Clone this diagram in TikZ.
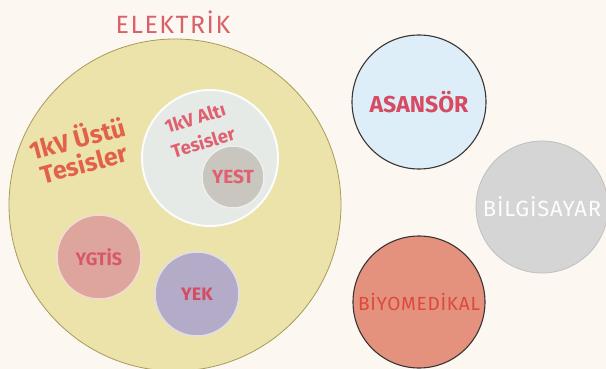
\documentclass[tikz,border=0pt]{standalone}
\usepackage{fontspec}
\setmainfont{Fira Sans}
\newfontfamily\labfont{Fira Sans}
\newfontfamily\widefont[LetterSpace=4]{Fira Sans}
\newfontfamily\titlefont[LetterSpace=6]{Fira Sans}
\definecolor{bg}{HTML}{FCF8F1}
\definecolor{elfill}{HTML}{EBE3A9}
\definecolor{eldraw}{HTML}{A89A5A}
\definecolor{altfill}{HTML}{E6EAE6}
\definecolor{yestfill}{HTML}{C9C5BF}
\definecolor{ygtfill}{HTML}{DEA59C}
\definecolor{yekfill}{HTML}{B4ABC8}
\definecolor{asfill}{HTML}{DDEEF8}
\definecolor{bgfill}{HTML}{D5D5D5}
\definecolor{biofill}{HTML}{E4917E}
\definecolor{darkedge}{HTML}{3A3535}
\definecolor{titlecol}{HTML}{D9626A}
\definecolor{ustcol}{HTML}{E2614A}
\definecolor{altcol}{HTML}{E06070}
\definecolor{redtxt}{HTML}{D64A62}
\definecolor{biotxt}{HTML}{DD4A3C}
\begin{document}
\begin{tikzpicture}[x=1pt,y=-1pt,
  circ/.style={circle,inner sep=0pt,minimum size=#1},
  ustlab/.style={text=ustcol, font=\labfont\bfseries\fontsize{25}{28}\selectfont, rotate=15, inner sep=1pt},
  altlab/.style={text=altcol, font=\labfont\bfseries\fontsize{18.5}{21}\selectfont, rotate=17, inner sep=1pt},
]
\useasboundingbox (0,0) rectangle (606,369);
\fill[bg] (0,0) rectangle (606,369);
% main circle
\node[circ=332pt, fill=elfill, draw=eldraw, line width=0.8pt] (el) at (175,205) {};
\node[text=titlecol, font=\titlefont\fontsize{25}{28}\selectfont] (eltitle) at (173,22) {ELEKTRİK};
% 1kV Ustu label
\node[ustlab] (ust1) at (77,137) {1kV Üstü};
\node[ustlab] (ust2) at (84,163) {Tesisler};
% 1kV Alti circle
\node[circ=136pt, fill=altfill, draw=white!85!altfill, line width=2pt] (alt) at (210,158) {};
\node[circ=62pt, fill=yestfill, draw=white!70!yestfill, line width=1.5pt, text=altcol, font=\labfont\bfseries\fontsize{19}{20}\selectfont] (yest) at (233,177) {YEST};
\node[altlab] (alt1) at (195,118) {1kV Altı};
\node[altlab] (alt2) at (203,142) {Tesisler};
% YGTIS and YEK
\node[circ=84pt, fill=ygtfill, draw=white!60!ygtfill, line width=1.5pt, text=redtxt!85!ygtfill, font=\labfont\bfseries\fontsize{18}{20}\selectfont] (ygtis) at (99,257) {YGTİS};
\node[circ=84pt, fill=yekfill, draw=white!60!yekfill, line width=1.5pt, text=redtxt, font=\labfont\bfseries\fontsize{18}{20}\selectfont] (yek) at (197,294) {YEK};
% right circles
\node[circ=134pt, fill=asfill, draw=darkedge, line width=1.1pt, text=redtxt, font=\labfont\bfseries\fontsize{23}{25}\selectfont] (as) at (419,102) {ASANSÖR};
\node[circ=132pt, fill=bgfill, draw=bgfill!90!black, line width=0.8pt, text=white!95!bgfill, font=\widefont\fontsize{22}{24}\selectfont] (bil) at (542,207) {BİLGİSAYAR};
\node[circ=132pt, fill=biofill, draw=darkedge, line width=1.1pt, text=biotxt, font=\widefont\fontsize{19}{22}\selectfont] (bio) at (419,302) {BİYOMEDİKAL};
\end{tikzpicture}
\end{document}
